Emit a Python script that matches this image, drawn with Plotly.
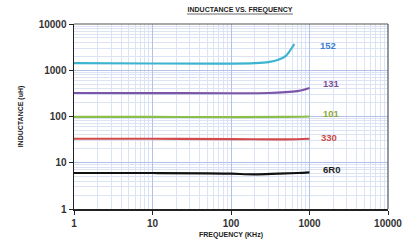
import math
import plotly.graph_objects as go

# ---- data ----
freq_152 = [1, 10, 50, 100, 200, 300, 400, 500, 550, 600, 640]
ind_152 = [1420, 1400, 1390, 1390, 1420, 1500, 1680, 2050, 2500, 3100, 3700]

freq_131 = [1, 10, 100, 300, 500, 700, 850, 1000]
ind_131 = [322, 320, 318, 322, 335, 355, 380, 415]

freq_101 = [1, 10, 100, 500, 1000]
ind_101 = [98, 98, 97, 98, 100]

freq_330 = [1, 10, 100, 500, 1000]
ind_330 = [33, 33, 32.5, 32, 33]

freq_6r0 = [1, 10, 50, 100, 200, 400, 700, 1000]
ind_6r0 = [6.0, 6.0, 5.9, 5.8, 5.6, 5.8, 6.0, 6.2]

series = [
    ("152", freq_152, ind_152, "#3db4cf", "#3f7fcf", 1720, 3500),
    ("131", freq_131, ind_131, "#7d55a8", "#7d4e9c", 1900, 520),
    ("101", freq_101, ind_101, "#8cbf4a", "#8aa83a", 1900, 118),
    ("330", freq_330, ind_330, "#d24a4a", "#c84a4a", 1760, 36),
    ("6R0", freq_6r0, ind_6r0, "#111111", "#222222", 1900, 7.0),
]

x_ticks = [1, 10, 100, 1000, 10000]
y_ticks = [1, 10, 100, 1000, 10000]

fig = go.Figure()
for name, fx, fy, col, lcol, lx, ly in series:
    fig.add_trace(go.Scatter(x=fx, y=fy, mode="lines", line=dict(color=col, width=2.2),
                             showlegend=False, line_shape="spline", hoverinfo="skip"))
    fig.add_annotation(x=math.log10(lx), y=math.log10(ly),
                       xref="x", yref="y", text=f"<b>{name}</b>", showarrow=False,
                       font=dict(size=9.5, color=lcol, family="Liberation Sans"))

axis_common = dict(
    type="log", automargin=False,
    showline=True, linecolor="#222", linewidth=1.5, mirror=False,
    ticks="outside", ticklen=4, tickcolor="#222",
    gridcolor="#b4c2ea", gridwidth=1,
    minor=dict(showgrid=True, gridcolor="#dbe3f5", gridwidth=1, dtick="D1"),
    tickfont=dict(size=10, family="Liberation Sans", color="#333"),
    zeroline=False,
)

fig.update_xaxes(**axis_common, range=[0, 4], tickvals=x_ticks,
                 ticktext=[f"<b>{v}</b>" for v in x_ticks],
                 title=dict(text="<b>FREQUENCY (KHz)</b>", font=dict(size=7, family="Liberation Sans", color="#222"), standoff=4))
fig.update_yaxes(**axis_common, range=[0, 4], tickvals=y_ticks,
                 ticktext=[f"<b>{v}</b>" for v in y_ticks],
                 title=dict(text="<b>INDUCTANCE (uH)</b>", font=dict(size=7, family="Liberation Sans", color="#222"), standoff=14))

fig.update_layout(
    width=404, height=246,
    margin=dict(l=74, r=16, t=24, b=37),
    paper_bgcolor="white", plot_bgcolor="white",
    hovermode=False,
    title=dict(text="<b>INDUCTANCE VS. FREQUENCY</b>",
               x=240/404, xanchor="center", y=1 - 10/246, yanchor="middle",
               font=dict(size=7, family="Liberation Sans", color="#222")),
    shapes=[dict(type="line", xref="paper", yref="paper", x0=0, x1=1, y0=1, y1=1,
                 line=dict(color="#555", width=1.2), layer="above"),
            dict(type="line", xref="paper", yref="paper", x0=1, x1=1, y0=0, y1=1,
                 line=dict(color="#555", width=1.2), layer="above"),
            dict(type="line", xref="paper", yref="paper",
                 x0=(187 - 74) / 314, x1=(293 - 74) / 314, y0=1 + 10/185, y1=1 + 10/185,
                 line=dict(color="#444", width=0.8))],
)

fig.write_html("out.html", config={"displayModeBar": False, "staticPlot": True},
               post_script="document.body.style.margin='0';document.body.style.overflow='hidden';")
